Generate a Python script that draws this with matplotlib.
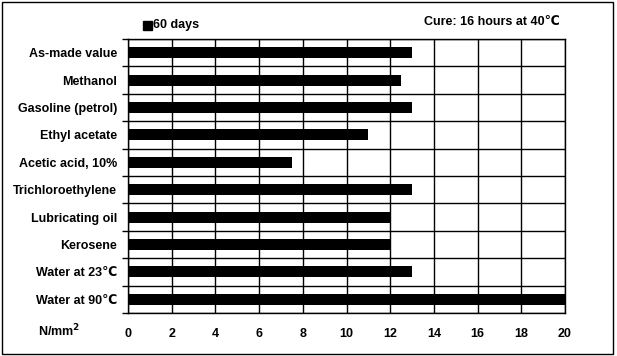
import numpy as np
import matplotlib.pyplot as plt
from matplotlib.patches import Rectangle

categories = ['As-made value', 'Methanol', 'Gasoline (petrol)', 'Ethyl acetate',
              'Acetic acid, 10%', 'Trichloroethylene', 'Lubricating oil',
              'Kerosene', 'Water at 23\u2103', 'Water at 90\u2103']
values_60_days = [13, 12.5, 13, 11, 7.5, 13, 12, 12, 13, 20]
x_ticks = list(range(0, 21, 2))

plt.rcParams['font.family'] = ['Liberation Sans Narrow', 'Liberation Sans', 'DejaVu Sans']
plt.rcParams['font.weight'] = 'bold'
plt.rcParams['font.size'] = 9

fig = plt.figure(figsize=(6.17, 3.56), dpi=100)
ax = fig.add_axes([0.2075, 0.121, 0.7082, 0.7694])

y = np.arange(len(categories))
ax.barh(y, values_60_days, height=0.4, color='black', zorder=3)
ax.set_xlim(0, 20)
ax.set_ylim(len(categories) - 0.5, -0.5)

# vertical grid on x ticks, horizontal lines between categories
ax.set_xticks(x_ticks)
ax.set_xticklabels([str(t) for t in x_ticks])
ax.tick_params(axis='x', length=0, pad=11, labelsize=9)
ax.grid(axis='x', color='black', linewidth=1, zorder=1)

ax.set_yticks(np.arange(len(categories) + 1) - 0.5)
ax.set_yticklabels([])
ax.set_yticks(y, minor=True)
ax.set_yticklabels(categories, minor=True)
ax.tick_params(axis='y', which='major', length=4, width=1, direction='out')
ax.tick_params(axis='y', which='minor', length=0, pad=8, labelsize=9)
ax.grid(axis='y', which='major', color='black', linewidth=1, zorder=1)

for s in ax.spines.values():
    s.set_linewidth(1)
    s.set_color('black')

fig.text(0.062, 0.07, 'N/mm$^{2}$', fontsize=9, fontweight='bold', va='center')

# legend
fig.patches.append(Rectangle((0.231, 0.916), 0.016, 0.026, transform=fig.transFigure,
                             color='black', figure=fig))
fig.text(0.248, 0.93, '60 days', fontsize=9, va='center')
fig.text(0.908, 0.937, 'Cure: 16 hours at 40\u2103', fontsize=9, va='center', ha='right')

# outer frame
fig.patches.append(Rectangle((0.004, 0.006), 0.99, 0.988, transform=fig.transFigure,
                             fill=False, edgecolor='black', linewidth=1, figure=fig))

fig.savefig('out.png', dpi=100)
